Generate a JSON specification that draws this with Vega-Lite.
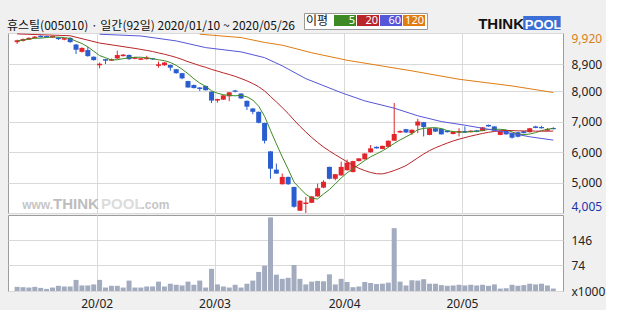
{
"$schema": "https://vega.github.io/schema/vega-lite/v6.json",
"background": "#f0f0f0",
"padding": {"left": 7, "top": 12, "right": 0, "bottom": 0},
"title": {"text": "휴스틸(005010) · 일간(92일) 2020/01/10 ~ 2020/05/26", "anchor": "start", "frame": "group", "font": "Noto Sans CJK KR", "fontSize": 12, "fontWeight": "normal", "color": "#111111", "offset": 0, "dx": -1, "dy": 20},
"datasets": {
"candles": [
{"i":0,"d":"2020-01-10","o":9620,"h":9700,"l":9560,"c":9680,"v":12},
{"i":1,"d":"2020-01-13","o":9660,"h":9740,"l":9640,"c":9720,"v":11},
{"i":2,"d":"2020-01-14","o":9700,"h":9780,"l":9690,"c":9760,"v":10},
{"i":3,"d":"2020-01-15","o":9750,"h":9820,"l":9740,"c":9800,"v":12},
{"i":4,"d":"2020-01-16","o":9830,"h":9840,"l":9770,"c":9780,"v":9},
{"i":5,"d":"2020-01-17","o":9820,"h":9830,"l":9770,"c":9780,"v":6},
{"i":6,"d":"2020-01-20","o":9770,"h":9830,"l":9760,"c":9820,"v":10},
{"i":7,"d":"2020-01-21","o":9770,"h":9780,"l":9690,"c":9720,"v":15},
{"i":8,"d":"2020-01-22","o":9700,"h":9760,"l":9680,"c":9750,"v":13},
{"i":9,"d":"2020-01-23","o":9760,"h":9780,"l":9600,"c":9620,"v":13},
{"i":10,"d":"2020-01-28","o":9540,"h":9560,"l":9230,"c":9370,"v":32},
{"i":11,"d":"2020-01-29","o":9300,"h":9450,"l":9280,"c":9430,"v":16},
{"i":12,"d":"2020-01-30","o":9360,"h":9470,"l":9140,"c":9160,"v":16},
{"i":13,"d":"2020-01-31","o":9140,"h":9150,"l":9010,"c":9030,"v":19},
{"i":14,"d":"2020-02-03","o":8860,"h":8950,"l":8760,"c":8910,"v":32},
{"i":15,"d":"2020-02-04","o":9060,"h":9070,"l":8900,"c":9010,"v":10},
{"i":16,"d":"2020-02-05","o":9010,"h":9080,"l":9000,"c":9060,"v":15},
{"i":17,"d":"2020-02-06","o":9085,"h":9340,"l":9060,"c":9195,"v":15},
{"i":18,"d":"2020-02-07","o":9160,"h":9230,"l":9150,"c":9210,"v":10},
{"i":19,"d":"2020-02-10","o":9200,"h":9210,"l":9040,"c":9060,"v":30},
{"i":20,"d":"2020-02-11","o":9070,"h":9130,"l":9060,"c":9120,"v":10},
{"i":21,"d":"2020-02-12","o":9040,"h":9100,"l":9030,"c":9090,"v":10},
{"i":22,"d":"2020-02-13","o":9060,"h":9170,"l":9050,"c":9110,"v":13},
{"i":23,"d":"2020-02-14","o":9090,"h":9100,"l":9040,"c":9050,"v":13},
{"i":24,"d":"2020-02-17","o":8840,"h":8980,"l":8780,"c":8890,"v":27},
{"i":25,"d":"2020-02-18","o":8860,"h":8970,"l":8840,"c":8950,"v":13},
{"i":26,"d":"2020-02-19","o":8870,"h":8880,"l":8680,"c":8780,"v":21},
{"i":27,"d":"2020-02-20","o":8730,"h":8740,"l":8580,"c":8600,"v":18},
{"i":28,"d":"2020-02-21","o":8600,"h":8610,"l":8400,"c":8430,"v":16},
{"i":29,"d":"2020-02-24","o":8340,"h":8350,"l":8120,"c":8130,"v":27},
{"i":30,"d":"2020-02-25","o":8210,"h":8230,"l":8100,"c":8110,"v":18},
{"i":31,"d":"2020-02-26","o":8130,"h":8140,"l":8010,"c":8080,"v":30},
{"i":32,"d":"2020-02-27","o":8180,"h":8190,"l":8030,"c":8040,"v":10},
{"i":33,"d":"2020-02-28","o":7990,"h":8000,"l":7620,"c":7700,"v":64},
{"i":34,"d":"2020-03-02","o":7700,"h":7760,"l":7630,"c":7750,"v":19},
{"i":35,"d":"2020-03-03","o":7730,"h":7880,"l":7720,"c":7870,"v":13},
{"i":36,"d":"2020-03-04","o":7840,"h":7980,"l":7680,"c":7970,"v":10},
{"i":37,"d":"2020-03-05","o":8030,"h":8050,"l":7970,"c":7990,"v":18},
{"i":38,"d":"2020-03-06","o":7930,"h":7940,"l":7750,"c":7770,"v":10},
{"i":39,"d":"2020-03-09","o":7690,"h":7700,"l":7390,"c":7500,"v":21},
{"i":40,"d":"2020-03-10","o":7440,"h":7450,"l":7250,"c":7330,"v":30},
{"i":41,"d":"2020-03-11","o":7330,"h":7340,"l":6950,"c":6970,"v":55},
{"i":42,"d":"2020-03-12","o":6960,"h":6970,"l":6290,"c":6380,"v":73},
{"i":43,"d":"2020-03-13","o":6030,"h":6040,"l":5130,"c":5460,"v":212},
{"i":44,"d":"2020-03-16","o":5430,"h":5630,"l":5290,"c":5300,"v":47},
{"i":45,"d":"2020-03-17","o":4950,"h":5300,"l":4940,"c":5190,"v":35},
{"i":46,"d":"2020-03-18","o":5190,"h":5200,"l":4930,"c":4950,"v":38},
{"i":47,"d":"2020-03-19","o":4860,"h":4870,"l":4180,"c":4210,"v":75},
{"i":48,"d":"2020-03-20","o":4080,"h":4420,"l":4070,"c":4410,"v":35},
{"i":49,"d":"2020-03-23","o":4300,"h":4530,"l":4005,"c":4350,"v":19},
{"i":50,"d":"2020-03-24","o":4340,"h":4560,"l":4330,"c":4550,"v":27},
{"i":51,"d":"2020-03-25","o":4550,"h":4970,"l":4540,"c":4820,"v":29},
{"i":52,"d":"2020-03-26","o":4840,"h":5080,"l":4820,"c":5030,"v":28},
{"i":53,"d":"2020-03-27","o":5520,"h":5530,"l":5110,"c":5130,"v":48},
{"i":54,"d":"2020-03-30","o":5130,"h":5290,"l":5080,"c":5280,"v":19},
{"i":55,"d":"2020-03-31","o":5240,"h":5690,"l":5230,"c":5520,"v":35},
{"i":56,"d":"2020-04-01","o":5410,"h":5760,"l":5400,"c":5660,"v":26},
{"i":57,"d":"2020-04-02","o":5350,"h":5720,"l":5340,"c":5710,"v":11},
{"i":58,"d":"2020-04-03","o":5710,"h":5810,"l":5700,"c":5800,"v":13},
{"i":59,"d":"2020-04-06","o":5770,"h":5970,"l":5760,"c":5960,"v":26},
{"i":60,"d":"2020-04-07","o":6000,"h":6240,"l":5990,"c":6130,"v":23},
{"i":61,"d":"2020-04-08","o":6180,"h":6190,"l":6120,"c":6130,"v":20},
{"i":62,"d":"2020-04-09","o":6110,"h":6220,"l":6100,"c":6210,"v":21},
{"i":63,"d":"2020-04-10","o":6180,"h":6390,"l":6170,"c":6380,"v":24},
{"i":64,"d":"2020-04-13","o":6380,"h":7620,"l":6370,"c":6600,"v":181},
{"i":65,"d":"2020-04-14","o":6650,"h":6720,"l":6640,"c":6700,"v":27},
{"i":66,"d":"2020-04-16","o":6760,"h":6770,"l":6640,"c":6650,"v":16},
{"i":67,"d":"2020-04-17","o":6630,"h":6750,"l":6570,"c":6740,"v":31},
{"i":68,"d":"2020-04-20","o":6880,"h":7100,"l":6630,"c":7010,"v":30},
{"i":69,"d":"2020-04-21","o":6990,"h":7000,"l":6520,"c":6830,"v":34},
{"i":70,"d":"2020-04-22","o":6570,"h":6800,"l":6560,"c":6790,"v":21},
{"i":71,"d":"2020-04-23","o":6790,"h":6800,"l":6670,"c":6680,"v":21},
{"i":72,"d":"2020-04-24","o":6770,"h":6780,"l":6580,"c":6590,"v":17},
{"i":73,"d":"2020-04-27","o":6710,"h":6720,"l":6650,"c":6660,"v":15},
{"i":74,"d":"2020-04-28","o":6600,"h":6690,"l":6590,"c":6680,"v":16},
{"i":75,"d":"2020-04-29","o":6650,"h":6790,"l":6520,"c":6700,"v":18},
{"i":76,"d":"2020-05-04","o":6700,"h":6850,"l":6640,"c":6650,"v":16},
{"i":77,"d":"2020-05-06","o":6660,"h":6720,"l":6650,"c":6710,"v":18},
{"i":78,"d":"2020-05-07","o":6720,"h":6730,"l":6660,"c":6670,"v":16},
{"i":79,"d":"2020-05-08","o":6700,"h":6830,"l":6690,"c":6820,"v":18},
{"i":80,"d":"2020-05-11","o":6900,"h":6910,"l":6840,"c":6850,"v":15},
{"i":81,"d":"2020-05-12","o":6850,"h":6860,"l":6700,"c":6710,"v":19},
{"i":82,"d":"2020-05-13","o":6570,"h":6710,"l":6560,"c":6700,"v":7},
{"i":83,"d":"2020-05-14","o":6700,"h":6710,"l":6580,"c":6590,"v":8},
{"i":84,"d":"2020-05-15","o":6630,"h":6640,"l":6450,"c":6480,"v":18},
{"i":85,"d":"2020-05-18","o":6660,"h":6670,"l":6490,"c":6510,"v":15},
{"i":86,"d":"2020-05-19","o":6690,"h":6700,"l":6620,"c":6630,"v":17},
{"i":87,"d":"2020-05-20","o":6660,"h":6800,"l":6650,"c":6790,"v":21},
{"i":88,"d":"2020-05-21","o":6850,"h":6870,"l":6790,"c":6800,"v":19},
{"i":89,"d":"2020-05-22","o":6830,"h":6870,"l":6780,"c":6790,"v":21},
{"i":90,"d":"2020-05-25","o":6710,"h":6800,"l":6700,"c":6760,"v":16},
{"i":91,"d":"2020-05-26","o":6800,"h":6820,"l":6750,"c":6760,"v":7}
],
"ma": [
{"i":0,"ma":"5","v":9660},{"i":1,"ma":"5","v":9690},{"i":2,"ma":"5","v":9720},{"i":3,"ma":"5","v":9750},{"i":4,"ma":"5","v":9750},
{"i":5,"ma":"5","v":9772},{"i":6,"ma":"5","v":9790},{"i":7,"ma":"5","v":9782},{"i":8,"ma":"5","v":9770},{"i":9,"ma":"5","v":9736},
{"i":10,"ma":"5","v":9652},{"i":11,"ma":"5","v":9576},{"i":12,"ma":"5","v":9464},{"i":13,"ma":"5","v":9322},{"i":14,"ma":"5","v":9178},
{"i":15,"ma":"5","v":9108},{"i":16,"ma":"5","v":9034},{"i":17,"ma":"5","v":9041},{"i":18,"ma":"5","v":9075},{"i":19,"ma":"5","v":9107},
{"i":20,"ma":"5","v":9123},{"i":21,"ma":"5","v":9125},{"i":22,"ma":"5","v":9104},{"i":23,"ma":"5","v":9076},{"i":24,"ma":"5","v":9040},
{"i":25,"ma":"5","v":9010},{"i":26,"ma":"5","v":8954},{"i":27,"ma":"5","v":8856},{"i":28,"ma":"5","v":8730},{"i":29,"ma":"5","v":8582},
{"i":30,"ma":"5","v":8416},{"i":31,"ma":"5","v":8274},{"i":32,"ma":"5","v":8166},{"i":33,"ma":"5","v":8020},{"i":34,"ma":"5","v":7942},
{"i":35,"ma":"5","v":7892},{"i":36,"ma":"5","v":7870},{"i":37,"ma":"5","v":7856},{"i":38,"ma":"5","v":7870},{"i":39,"ma":"5","v":7822},
{"i":40,"ma":"5","v":7716},{"i":41,"ma":"5","v":7514},{"i":42,"ma":"5","v":7182},{"i":43,"ma":"5","v":6720},{"i":44,"ma":"5","v":6278},
{"i":45,"ma":"5","v":5848},{"i":46,"ma":"5","v":5446},{"i":47,"ma":"5","v":5022},{"i":48,"ma":"5","v":4812},{"i":49,"ma":"5","v":4620},
{"i":50,"ma":"5","v":4492},{"i":51,"ma":"5","v":4466},{"i":52,"ma":"5","v":4630},{"i":53,"ma":"5","v":4774},{"i":54,"ma":"5","v":4962},
{"i":55,"ma":"5","v":5156},{"i":56,"ma":"5","v":5324},{"i":57,"ma":"5","v":5460},{"i":58,"ma":"5","v":5594},{"i":59,"ma":"5","v":5730},
{"i":60,"ma":"5","v":5852},{"i":61,"ma":"5","v":5948},{"i":62,"ma":"5","v":6048},{"i":63,"ma":"5","v":6164},{"i":64,"ma":"5","v":6292},
{"i":65,"ma":"5","v":6406},{"i":66,"ma":"5","v":6508},{"i":67,"ma":"5","v":6614},{"i":68,"ma":"5","v":6740},{"i":69,"ma":"5","v":6786},
{"i":70,"ma":"5","v":6804},{"i":71,"ma":"5","v":6810},{"i":72,"ma":"5","v":6780},{"i":73,"ma":"5","v":6712},{"i":74,"ma":"5","v":6682},
{"i":75,"ma":"5","v":6662},{"i":76,"ma":"5","v":6660},{"i":77,"ma":"5","v":6684},{"i":78,"ma":"5","v":6688},{"i":79,"ma":"5","v":6716},
{"i":80,"ma":"5","v":6750},{"i":81,"ma":"5","v":6758},{"i":82,"ma":"5","v":6756},{"i":83,"ma":"5","v":6736},{"i":84,"ma":"5","v":6668},
{"i":85,"ma":"5","v":6598},{"i":86,"ma":"5","v":6582},{"i":87,"ma":"5","v":6600},{"i":88,"ma":"5","v":6646},{"i":89,"ma":"5","v":6710},
{"i":90,"ma":"5","v":6758},{"i":91,"ma":"5","v":6786},
{"i":0,"ma":"20","v":9890},{"i":9,"ma":"20","v":9830},{"i":14,"ma":"20","v":9590},{"i":19,"ma":"20","v":9443},
{"i":20,"ma":"20","v":9414},{"i":21,"ma":"20","v":9381},{"i":22,"ma":"20","v":9348},{"i":23,"ma":"20","v":9311},{"i":24,"ma":"20","v":9265},
{"i":25,"ma":"20","v":9223},{"i":26,"ma":"20","v":9172},{"i":27,"ma":"20","v":9116},{"i":28,"ma":"20","v":9051},{"i":29,"ma":"20","v":8977},
{"i":30,"ma":"20","v":8914},{"i":31,"ma":"20","v":8847},{"i":32,"ma":"20","v":8792},{"i":33,"ma":"20","v":8725},{"i":34,"ma":"20","v":8668},
{"i":35,"ma":"20","v":8610},{"i":36,"ma":"20","v":8556},{"i":37,"ma":"20","v":8496},{"i":38,"ma":"20","v":8424},{"i":39,"ma":"20","v":8347},
{"i":40,"ma":"20","v":8259},{"i":41,"ma":"20","v":8153},{"i":42,"ma":"20","v":8015},{"i":43,"ma":"20","v":7835},{"i":44,"ma":"20","v":7656},
{"i":45,"ma":"20","v":7468},{"i":46,"ma":"20","v":7276},{"i":47,"ma":"20","v":7057},{"i":48,"ma":"20","v":6856},{"i":49,"ma":"20","v":6666},
{"i":50,"ma":"20","v":6487},{"i":51,"ma":"20","v":6324},{"i":52,"ma":"20","v":6173},{"i":53,"ma":"20","v":6044},{"i":54,"ma":"20","v":5921},
{"i":55,"ma":"20","v":5803},{"i":56,"ma":"20","v":5688},{"i":57,"ma":"20","v":5574},{"i":58,"ma":"20","v":5475},{"i":59,"ma":"20","v":5398},
{"i":60,"ma":"20","v":5337},{"i":61,"ma":"20","v":5296},{"i":62,"ma":"20","v":5290},{"i":63,"ma":"20","v":5336},{"i":64,"ma":"20","v":5401},
{"i":65,"ma":"20","v":5477},{"i":66,"ma":"20","v":5562},{"i":67,"ma":"20","v":5688},{"i":68,"ma":"20","v":5818},{"i":69,"ma":"20","v":5943},
{"i":70,"ma":"20","v":6055},{"i":71,"ma":"20","v":6148},{"i":72,"ma":"20","v":6226},{"i":73,"ma":"20","v":6303},{"i":74,"ma":"20","v":6373},
{"i":75,"ma":"20","v":6431},{"i":76,"ma":"20","v":6482},{"i":77,"ma":"20","v":6532},{"i":78,"ma":"20","v":6576},{"i":79,"ma":"20","v":6619},
{"i":80,"ma":"20","v":6656},{"i":81,"ma":"20","v":6684},{"i":82,"ma":"20","v":6709},{"i":83,"ma":"20","v":6719},{"i":84,"ma":"20","v":6713},
{"i":85,"ma":"20","v":6704},{"i":86,"ma":"20","v":6703},{"i":87,"ma":"20","v":6705},{"i":88,"ma":"20","v":6696},{"i":89,"ma":"20","v":6694},
{"i":90,"ma":"20","v":6692},{"i":91,"ma":"20","v":6697},
{"i":14,"ma":"60","v":9880},{"i":21,"ma":"60","v":9822},{"i":27,"ma":"60","v":9660},{"i":32,"ma":"60","v":9440},{"i":38,"ma":"60","v":9300},
{"i":42,"ma":"60","v":9110},{"i":45,"ma":"60","v":8840},{"i":49,"ma":"60","v":8420},{"i":55,"ma":"60","v":7960},{"i":59,"ma":"60","v":7690},
{"i":64,"ma":"60","v":7450},{"i":68,"ma":"60","v":7200},{"i":72,"ma":"60","v":7010},{"i":76,"ma":"60","v":6890},{"i":79,"ma":"60","v":6790},
{"i":84,"ma":"60","v":6620},{"i":87,"ma":"60","v":6510},{"i":91,"ma":"60","v":6400},
{"i":31,"ma":"120","v":9880},{"i":38,"ma":"120","v":9770},{"i":42,"ma":"120","v":9610},{"i":45,"ma":"120","v":9520},{"i":47,"ma":"120","v":9420},
{"i":50,"ma":"120","v":9270},{"i":56,"ma":"120","v":9025},{"i":67,"ma":"120","v":8675},{"i":75,"ma":"120","v":8400},{"i":84,"ma":"120","v":8180},
{"i":91,"ma":"120","v":7965}
]
},
"spacing": 0,
"vconcat": [
{
"width": 555,
"height": 180,
"layer": [
{"data": {"name": "candles"}, "mark": {"type": "rule", "strokeWidth": 1},
 "encoding": {
  "x": {"field": "i", "type": "quantitative", "scale": {"domain": [-0.7, 91.8], "nice": false, "zero": false},
        "axis": {"values": [13.5, 33.5, 55.5, 75.5], "tickCount": 20, "labels": false, "ticks": false, "domain": false, "title": null, "grid": true}},
  "y": {"field": "l", "type": "quantitative", "scale": {"domain": [4005, 9920], "nice": false, "zero": false},
        "axis": {"orient": "right", "values": [4005, 5000, 6000, 7000, 8000, 8900, 9920], "tickCount": 20, "format": ",.0f", "labelOverlap": false, "title": null, "grid": true, "labelFlush": true, "labelPadding": 8,
                 "labelColor": {"condition": [{"test": "datum.value == 9920", "value": "#d98020"}, {"test": "datum.value == 4005", "value": "#2233aa"}], "value": "#222222"}}},
  "y2": {"field": "h"},
  "color": {"condition": {"test": "datum.c >= datum.o", "value": "#e3242b"}, "value": "#2a5dd0"}
 }},
{"data": {"name": "candles"}, "mark": {"type": "bar", "width": 5},
 "encoding": {
  "x": {"field": "i", "type": "quantitative"},
  "y": {"field": "o", "type": "quantitative"},
  "y2": {"field": "c"},
  "color": {"condition": {"test": "datum.c >= datum.o", "value": "#e3242b"}, "value": "#2a5dd0"}
 }},
{"data": {"values": [{}]}, "mark": {"type": "text", "text": "www.", "font": "Liberation Sans", "fontSize": 12, "fontWeight": "bold", "color": "#c6c6c6", "align": "right", "baseline": "alphabetic"},
 "encoding": {"x": {"datum": 6.1, "type": "quantitative"}, "y": {"datum": 4140, "type": "quantitative"}}},
{"data": {"values": [{}]}, "mark": {"type": "text", "text": "THINK", "font": "Liberation Sans", "fontSize": 15, "fontWeight": "bold", "color": "#bdbdbd", "align": "left", "baseline": "alphabetic"},
 "encoding": {"x": {"datum": 6.1, "type": "quantitative"}, "y": {"datum": 4140, "type": "quantitative"}}},
{"data": {"values": [{}]}, "mark": {"type": "text", "text": "POOL", "font": "Liberation Sans", "fontSize": 15, "fontWeight": "bold", "color": "#dcdcdc", "align": "left", "baseline": "alphabetic"},
 "encoding": {"x": {"datum": 14.25, "type": "quantitative"}, "y": {"datum": 4140, "type": "quantitative"}}},
{"data": {"values": [{}]}, "mark": {"type": "text", "text": ".com", "font": "Liberation Sans", "fontSize": 12, "fontWeight": "bold", "color": "#c6c6c6", "align": "left", "baseline": "alphabetic"},
 "encoding": {"x": {"datum": 21.1, "type": "quantitative"}, "y": {"datum": 4140, "type": "quantitative"}}},
{"data": {"name": "ma"}, "mark": {"type": "line", "strokeWidth": 1, "clip": true},
 "encoding": {
  "x": {"field": "i", "type": "quantitative"},
  "y": {"field": "v", "type": "quantitative"},
  "color": {"field": "ma", "type": "nominal",
            "scale": {"domain": ["5", "20", "60", "120"], "range": ["#3d8a24", "#b8262a", "#5656d8", "#e07c12"]},
            "legend": {"title": "이평", "orient": "none", "legendX": 296, "legendY": -20, "direction": "horizontal",
                       "titleOrient": "left", "titleFont": "Noto Sans CJK KR", "titleFontSize": 12, "titleFontWeight": "normal", "titleColor": "#111111", "titlePadding": 5,
                       "fillColor": "white", "strokeColor": "#9a9a9a", "padding": 2,
                       "symbolType": "M-1,-1H3V1H-1Z", "symbolSize": 121, "symbolStrokeWidth": 0, "symbolOpacity": 1,
                       "labelOffset": 10, "labelAlign": "right", "labelColor": "white", "labelFont": "Noto Sans", "labelFontSize": 11,
                       "columnPadding": 1,
                       "encode": {"symbols": {"update": {"fill": {"scale": "color", "field": "value"}, "stroke": {"value": "transparent"}, "opacity": {"value": 1}}}}}}
 }},
{"data": {"values": [{}]}, "mark": {"type": "text", "text": "THINK", "font": "Liberation Sans", "fontSize": 15, "fontWeight": "bold", "color": "#111111", "align": "left", "baseline": "alphabetic"},
 "encoding": {"x": {"datum": 78.25, "type": "quantitative"}, "y": {"datum": 10061, "type": "quantitative"}}},
{"data": {"values": [{}]}, "mark": {"type": "rect", "color": "#3b6fd6"},
 "encoding": {"x": {"datum": 85.9, "type": "quantitative"}, "x2": {"datum": 92.25}, "y": {"datum": 10478, "type": "quantitative"}, "y2": {"datum": 10018}}},
{"data": {"values": [{}]}, "mark": {"type": "text", "text": "POOL", "font": "Liberation Sans", "fontSize": 13, "fontWeight": "bold", "color": "white", "align": "left", "baseline": "alphabetic"},
 "encoding": {"x": {"datum": 86.15, "type": "quantitative"}, "y": {"datum": 10061, "type": "quantitative"}}}
]
},
{
"width": 555,
"height": 76,
"data": {"name": "candles"},
"mark": {"type": "bar", "width": 5, "color": "#a3abbf"},
"encoding": {
 "x": {"field": "i", "type": "quantitative", "scale": {"domain": [-0.7, 91.8], "nice": false, "zero": false},
       "axis": {"values": [13.5, 33.5, 55.5, 75.5], "tickCount": 20, "labelExpr": "datum.value < 20 ? '20/02' : datum.value < 40 ? '20/03' : datum.value < 60 ? '20/04' : '20/05'", "grid": true, "ticks": false, "domain": false, "title": null, "labelPadding": 7}},
 "y": {"field": "v", "type": "quantitative", "scale": {"domain": [0, 219], "nice": false},
       "axis": {"orient": "right", "values": [0, 74, 146], "tickCount": 20, "labelExpr": "datum.value == 0 ? 'x1000' : datum.label", "title": null, "grid": true, "labelPadding": 8}}
}
}
],
"config": {
 "view": {"fill": "white", "stroke": "#9c9c9c", "strokeWidth": 1},
 "axis": {"labelFont": "Noto Sans", "labelFontSize": 12, "labelColor": "#222222", "gridColor": "#d9d9d9", "ticks": false, "domain": false},
 "concat": {"spacing": 0}
}
}
